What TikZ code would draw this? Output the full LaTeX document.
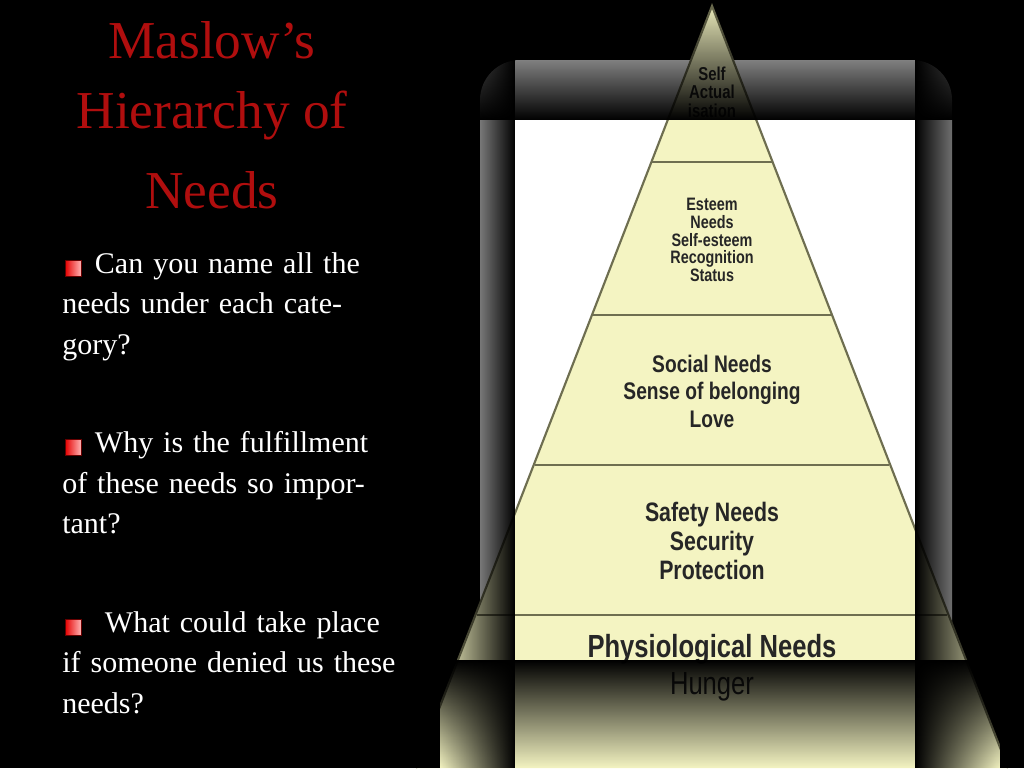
\documentclass[tikz,border=0pt]{standalone}
\usepackage{fontspec}
\setmainfont{Liberation Serif}
\newfontfamily\pyrfont{Liberation Sans}
\usetikzlibrary{fadings}
\definecolor{titlered}{HTML}{B00E0E}
\definecolor{pyfill}{HTML}{F4F4C2}
\definecolor{pyline}{HTML}{6E6E50}
\begin{document}
\begin{tikzpicture}[x=0.75pt,y=-0.75pt,
  title/.style={text=titlered,font=\fontsize{40}{44}\selectfont,anchor=center},
  body/.style={text=white,font=\fontsize{22.5}{30.5}\selectfont,anchor=north west,align=left,text width=250pt,inner sep=0},
  bul/.style={draw=red!40!black,minimum size=12pt,inner sep=0,left color=red!90!black,right color=white!70!red},
  lvl/.style={font=\pyrfont\bfseries\fontsize{#1}{\dimexpr#1pt*6/5\relax}\selectfont,align=center,text=black!85,xscale=0.8},
  pline/.style={draw=pyline,line width=1.6pt}]
\useasboundingbox (0,0) rectangle (1024,768);
\fill[black] (0,0) rectangle (1024,768);
% glow
\fill[white,rounded corners=30] (480,60) rectangle (952,740);
% pyramid
\coordinate (apex) at (712,6);
\fill[pyfill] (apex) -- (1008,768) -- (416,768) -- cycle;
\draw[pline] (416,768) -- (apex) -- (1008,768);
\draw[pline] (652,162) -- (772,162);
\draw[pline] (593,315) -- (831,315);
\draw[pline] (535,465) -- (889,465);
\draw[pline] (477,615) -- (947,615);
\node[lvl=14] (l1) at (712,92) {Self\\[-3pt]Actual\\[-3pt]isation};
\node[lvl=13.5] (l2) at (712,240) {Esteem\\[-3pt]Needs\\[-3pt]Self-esteem\\[-3pt]Recognition\\[-3pt]Status};
\node[lvl=18] (l3) at (712,391) {Social Needs\\[-1pt]Sense of belonging\\[-1pt]Love};
\node[lvl=20] (l4) at (712,541) {Safety Needs\\[-2pt]Security\\[-2pt]Protection};
\node[lvl=24] (l5) at (712,668) {Physiological Needs\\[-1pt]\mdseries Hunger};
% fades
\fill[black,path fading=north] (440,0) rectangle (1000,120);
\fill[black,path fading=south] (440,660) rectangle (1000,768);
\fill[black,path fading=west] (440,0) rectangle (515,768);
\fill[black,path fading=east] (915,0) rectangle (1000,768);
\fill[black] (0,0) rectangle (440,768);
\fill[black] (1000,0) rectangle (1024,768);
% title
\node[title] (t1) at (212,40) {Maslow’s};
\node[title] (t2) at (212,115) {Hierarchy of};
\node[title] (t3) at (212,190) {Needs};
% bullets
\node[bul] (b1) at (73,268) {};
\node[body] (q1) at (62,252) {\hspace*{24.5pt}Can you name all the needs under each category?};
\node[bul] (b2) at (73,447) {};
\node[body] (q2) at (62,431) {\hspace*{24.5pt}Why is the fulfillment of these needs so important?};
\node[bul] (b3) at (73,627) {};
\node[body,text width=260pt] (q3) at (62,611) {\hspace*{24.5pt} What could take place if someone denied us these needs?};
\end{tikzpicture}
\end{document}
